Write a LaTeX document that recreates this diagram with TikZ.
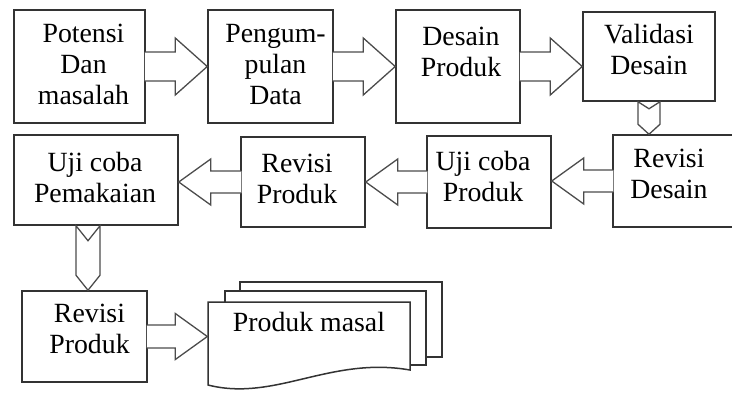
\documentclass[tikz,border=0pt]{standalone}
\usepackage{fontspec}
\setmainfont{Liberation Serif}
\usetikzlibrary{calc}

\tikzset{
  box/.style={draw=black!80, line width=1.5pt, fill=white, inner sep=0pt},
  txt/.style={align=center, inner sep=0pt, anchor=north,
    font=\fontsize{27.8pt}{31pt}\selectfont},
  blk/.style={draw=black!70, line width=1.3pt, fill=white, line join=miter}
}

% block arrow to the right: from, to, half shaft, half head
\newcommand{\rblock}[4]{%
  \filldraw[blk] let \p1=(#1.east), \p2=(#2.west) in
    (\x1-1pt,\y1+#3pt) -- (\x2-32pt,\y1+#3pt) -- (\x2-32pt,\y1+#4pt) -- (\x2,\y1)
    -- (\x2-32pt,\y1-#4pt) -- (\x2-32pt,\y1-#3pt) -- (\x1-1pt,\y1-#3pt);}
% block arrow to the left
\newcommand{\lblock}[4]{%
  \filldraw[blk] let \p1=(#1.west), \p2=(#2.east) in
    (\x1+1pt,\y1+#3pt) -- (\x2+32pt,\y1+#3pt) -- (\x2+32pt,\y1+#4pt) -- (\x2,\y1)
    -- (\x2+32pt,\y1-#4pt) -- (\x2+32pt,\y1-#3pt) -- (\x1+1pt,\y1-#3pt);}
% chevron down: from, to, xshift, half width, notch, point
\newcommand{\dblock}[6]{%
  \filldraw[blk] let \p1=([xshift=#3pt]#1.south), \p2=(#2.north) in
    (\x1-#4pt,\y1) -- (\x1,\y1-#5pt) -- (\x1+#4pt,\y1) -- (\x1+#4pt,\y2+#6pt)
    -- (\x1,\y2) -- (\x1-#4pt,\y2+#6pt) -- cycle;}

\begin{document}
\begin{tikzpicture}[x=1pt, y=-1pt]
  \useasboundingbox (0,0) rectangle (732,392);

  % boxes
  \node[box, minimum width=131pt, minimum height=113pt] (pot) at (79.5,66.5) {};
  \node[box, minimum width=125pt, minimum height=113pt] (pen) at (270.5,66.5) {};
  \node[box, minimum width=124pt, minimum height=113pt] (des) at (458,66.5) {};
  \node[box, minimum width=132pt, minimum height=89pt] (val) at (649,56.5) {};
  \node[box, minimum width=132pt, minimum height=92pt] (rdes) at (679,181) {};
  \node[box, minimum width=124pt, minimum height=92pt] (ujpr) at (489,182) {};
  \node[box, minimum width=124pt, minimum height=90pt] (rpr) at (303,182) {};
  \node[box, minimum width=164pt, minimum height=90pt] (ujpm) at (96,180) {};
  \node[box, minimum width=125pt, minimum height=91pt] (rpr2) at (84.5,336.5) {};

  % produk masal
  \filldraw[box] (240,282) rectangle (442,357);
  \filldraw[box] (225,291) rectangle (426,365);
  \filldraw[box] (208,302) -- (410,302) -- (410,370)
    .. controls (330,356) and (275,402) .. (208,385) -- cycle;
  \node[inner sep=0pt] (doc) at (208,336) {};

  % texts
  \node[txt] (pot-t) at ([xshift=4pt,yshift=-15pt]pot.north) {Potensi\\Dan\\masalah};
  \node[txt] (pen-t) at ([xshift=5pt,yshift=-15pt]pen.north) {Pengum-\\pulan\\Data};
  \node[txt] (des-t) at ([xshift=3pt,yshift=-18pt]des.north) {Desain\\Produk};
  \node[txt] (val-t) at ([yshift=-13pt]val.north) {Validasi\\Desain};
  \node[txt] (rdes-t) at ([xshift=-10pt,yshift=-15pt]rdes.north) {Revisi\\Desain};
  \node[txt] (ujpr-t) at ([xshift=-6pt,yshift=-16pt]ujpr.north) {Uji coba\\Produk};
  \node[txt] (rpr-t) at ([xshift=-6pt,yshift=-18pt]rpr.north) {Revisi\\Produk};
  \node[txt] (ujpm-t) at ([xshift=-1pt,yshift=-18pt]ujpm.north) {Uji coba\\Pemakaian};
  \node[txt] (rpr2-t) at ([xshift=5pt,yshift=-14pt]rpr2.north) {Revisi\\Produk};
  \node[txt] (doc-t) at (309,312) {Produk masal};

  % arrows
  \rblock{pot}{pen}{14.5}{28.5}
  \rblock{pen}{des}{14.5}{28.5}
  \rblock{des}{val}{14.5}{28.5}
  \dblock{val}{rdes}{0}{11}{7}{10}
  \lblock{rdes}{ujpr}{11}{23}
  \lblock{ujpr}{rpr}{11}{23}
  \lblock{rpr}{ujpm}{11}{23}
  \dblock{ujpm}{rpr2}{-8}{12}{15}{15}
  \rblock{rpr2}{doc}{11.5}{23}
\end{tikzpicture}
\end{document}
